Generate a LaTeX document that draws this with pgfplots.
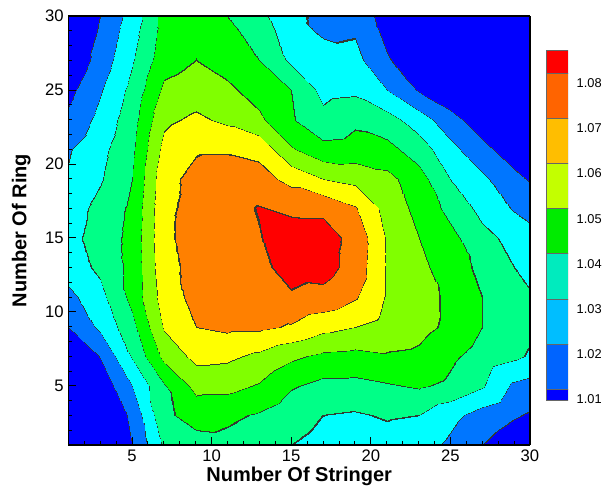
\documentclass[border=0pt]{standalone}
\usepackage{pgfplots}
\pgfplotsset{compat=1.18}
\usepackage{fontspec}
\setmainfont{Liberation Sans}
\definecolor{c0}{RGB}{0,0,255}
\definecolor{c1}{RGB}{0,118,255}
\definecolor{c2}{RGB}{0,255,255}
\definecolor{c3}{RGB}{0,255,135}
\definecolor{c4}{RGB}{0,255,0}
\definecolor{c5}{RGB}{128,255,0}
\definecolor{c6}{RGB}{255,255,0}
\definecolor{c7}{RGB}{255,128,0}
\definecolor{c8}{RGB}{255,0,0}
\definecolor{cl}{RGB}{50,60,50}
\definecolor{cb0}{RGB}{0,0,255}
\definecolor{cb1}{RGB}{0,100,255}
\definecolor{cb2}{RGB}{0,190,255}
\definecolor{cb3}{RGB}{0,235,190}
\definecolor{cb4}{RGB}{0,235,0}
\definecolor{cb5}{RGB}{195,255,0}
\definecolor{cb6}{RGB}{255,190,0}
\definecolor{cb7}{RGB}{255,100,0}
\definecolor{cb8}{RGB}{255,0,0}
\begin{document}
\begin{tikzpicture}
\useasboundingbox (0,0) rectangle (462pt,366pt);
\begin{axis}[
  at={(51.2pt,32.25pt)}, anchor=south west,
  scale only axis, width=346.3pt, height=321.75pt,
  view={0}{90},
  xmin=1, xmax=30, ymin=1, ymax=30,
  xtick={5,10,...,30}, ytick={5,10,...,30},
  minor xtick={1,...,30}, minor ytick={1,...,30},
  xtick pos=left, ytick pos=left, ztick=\empty,
  tick align=inside,
  major tick length=6pt, minor tick length=3pt,
  tick style={black, line width=0.6pt},
  axis line style={line width=0.9pt},
  axis on top,
  /pgf/number format/assume math mode=true,
  tick label style={font=\fontsize{12.5}{14}\selectfont},
  label style={font=\bfseries\fontsize{15}{18}\selectfont},
  xlabel={Number Of Stringer},
  ylabel={Number Of Ring},
  xlabel shift=-3pt,
  ylabel shift=4pt,
  colormap={tec}{color(0)=(c0) color(198.5)=(cl) color(201.5)=(c1) color(298.5)=(cl) color(301.5)=(c2) color(398.5)=(cl) color(401.5)=(c3) color(498.5)=(cl) color(501.5)=(c4) color(598.5)=(cl) color(601.5)=(c5) color(698.5)=(cl) color(701.5)=(c6) color(798.5)=(cl) color(801.5)=(c7) color(898.5)=(cl) color(901.5)=(c8) color(1000)=(c8)},
  colormap access=piecewise constant,
  point meta min=0.99, point meta max=1.09,
]
\addplot3[surf, shader=interp, mesh/rows=16, mesh/cols=16] table {
x y z
1 1 0.985
3 1 0.992
5 1 1.010
7 1 1.032
9 1 1.036
11 1 1.037
13 1 1.034
15 1 1.030
17 1 1.027
19 1 1.026
21 1 1.026
23 1 1.024
25 1 1.018
27 1 1.010
29 1 1.004
30 1 1.002
1 3 0.988
3 3 0.997
5 3 1.0125
7 3 1.038
9 3 1.044
11 3 1.042
13 3 1.039
15 3 1.034
17 3 1.030
19 3 1.029
21 3 1.031
23 3 1.030
25 3 1.023
27 3 1.016
29 3 1.011
30 3 1.009
1 5 0.990
3 5 1.003
5 5 1.020
7 5 1.039
9 5 1.053
11 5 1.053
13 5 1.049
15 5 1.041
17 5 1.037
19 5 1.037
21 5 1.039
23 5 1.041
25 5 1.038
27 5 1.031
29 5 1.018
30 5 1.016
1 7 0.998
3 7 1.0105
5 7 1.031
7 7 1.053
9 7 1.063
11 7 1.062
13 7 1.058
15 7 1.052
17 7 1.048
19 7 1.047
21 7 1.049
23 7 1.048
25 7 1.042
27 7 1.036
29 7 1.032
30 7 1.029
1 9 1.010
3 9 1.022
5 9 1.037
7 9 1.061
9 9 1.070
11 9 1.072
13 9 1.072
15 9 1.069
17 9 1.063
19 9 1.060
21 9 1.056
23 9 1.053
25 9 1.048
27 9 1.040
29 9 1.034
30 9 1.032
1 11 1.017
3 11 1.027
5 11 1.043
7 11 1.065
9 11 1.073
11 11 1.075
13 11 1.077
15 11 1.079
17 11 1.077
19 11 1.071
21 11 1.059
23 11 1.054
25 11 1.048
27 11 1.040
29 11 1.034
30 11 1.031
1 13 1.025
3 13 1.032
5 13 1.043
7 13 1.067
9 13 1.073
11 13 1.076
13 13 1.078
15 13 1.083
17 13 1.084
19 13 1.076
21 13 1.059
23 13 1.053
25 13 1.044
27 13 1.038
29 13 1.030
30 13 1.027
1 15 1.027
3 15 1.034
5 15 1.043
7 15 1.068
9 15 1.074
11 15 1.077
13 15 1.0795
15 15 1.085
17 15 1.084
19 15 1.077
21 15 1.059
23 15 1.050
25 15 1.043
27 15 1.033
29 15 1.027
30 15 1.024
1 17 1.025
3 17 1.033
5 17 1.042
7 17 1.068
9 17 1.073
11 17 1.077
13 17 1.0805
15 17 1.078
17 17 1.078
19 17 1.071
21 17 1.056
23 17 1.047
25 17 1.037
27 17 1.027
29 17 1.019
30 17 1.016
1 19 1.021
3 19 1.029
5 19 1.040
7 19 1.067
9 19 1.073
11 19 1.075
13 19 1.074
15 19 1.067
17 19 1.060
19 19 1.057
21 19 1.053
23 19 1.044
25 19 1.030
27 19 1.022
29 19 1.013
30 19 1.009
1 21 1.019
3 21 1.027
5 21 1.038
7 21 1.063
9 21 1.069
11 21 1.069
13 21 1.067
15 21 1.051
17 21 1.043
19 21 1.044
21 21 1.043
23 21 1.035
25 21 1.023
27 21 1.013
29 21 1.004
30 21 1.000
1 23 1.012
3 23 1.023
5 23 1.036
7 23 1.058
9 23 1.062
11 23 1.058
13 23 1.052
15 23 1.041
17 23 1.033
19 23 1.038
21 23 1.034
23 23 1.025
25 23 1.014
27 23 1.004
29 23 0.998
30 23 0.996
1 25 1.007
3 25 1.019
5 25 1.033
7 25 1.052
9 25 1.055
11 25 1.052
13 25 1.046
15 25 1.040
17 25 1.027
19 25 1.028
21 25 1.020
23 25 1.009
25 25 1.002
27 25 0.996
29 25 0.994
30 25 0.993
1 27 1.001
3 27 1.014
5 27 1.029
7 27 1.046
9 27 1.050
11 27 1.046
13 27 1.040
15 27 1.028
17 27 1.026
19 27 1.023
21 27 1.011
23 27 1.003
25 27 0.997
27 27 0.994
29 27 0.993
30 27 0.993
1 29 1.000
3 29 1.011
5 29 1.026
7 29 1.044
9 29 1.048
11 29 1.043
13 29 1.035
15 29 1.025
17 29 1.018
19 29 1.019
21 29 1.007
23 29 1.000
25 29 0.996
27 29 0.994
29 29 0.993
30 29 0.993
1 30 1.000
3 30 1.010
5 30 1.024
7 30 1.044
9 30 1.047
11 30 1.040
13 30 1.033
15 30 1.022
17 30 1.018
19 30 1.016
21 30 1.006
23 30 1.000
25 30 0.996
27 30 0.994
29 30 0.993
30 30 0.993
};
\end{axis}
\begin{axis}[
  at={(409.5pt,65.5pt)}, anchor=south west,
  scale only axis, width=16.5pt, height=263pt,
  xmin=0, xmax=1, ymin=1.0074, ymax=1.0852,
  axis line style={draw=none},
  xtick=\empty,
  ytick={1.01,1.02,1.03,1.04,1.05,1.06,1.07,1.08},
  yticklabels={1.01,1.02,1.03,1.04,1.05,1.06,1.07,1.08},
  yticklabel pos=right,
  ytick style={draw=none},
  yticklabel style={font=\fontsize{9.6}{11}\selectfont, yshift=-7.5pt, xshift=3pt},
]
\addplot[fill=cb0, draw=black!60] coordinates {(0,1.0074)(1,1.0074)(1,1.01)(0,1.01)} -- cycle;
\addplot[fill=cb1, draw=black!60] coordinates {(0,1.01)(1,1.01)(1,1.02)(0,1.02)} -- cycle;
\addplot[fill=cb2, draw=black!60] coordinates {(0,1.02)(1,1.02)(1,1.03)(0,1.03)} -- cycle;
\addplot[fill=cb3, draw=black!60] coordinates {(0,1.03)(1,1.03)(1,1.04)(0,1.04)} -- cycle;
\addplot[fill=cb4, draw=black!60] coordinates {(0,1.04)(1,1.04)(1,1.05)(0,1.05)} -- cycle;
\addplot[fill=cb5, draw=black!60] coordinates {(0,1.05)(1,1.05)(1,1.06)(0,1.06)} -- cycle;
\addplot[fill=cb6, draw=black!60] coordinates {(0,1.06)(1,1.06)(1,1.07)(0,1.07)} -- cycle;
\addplot[fill=cb7, draw=black!60] coordinates {(0,1.07)(1,1.07)(1,1.08)(0,1.08)} -- cycle;
\addplot[fill=cb8, draw=black!60] coordinates {(0,1.08)(1,1.08)(1,1.0852)(0,1.0852)} -- cycle;
\end{axis}
\end{tikzpicture}
\end{document}
